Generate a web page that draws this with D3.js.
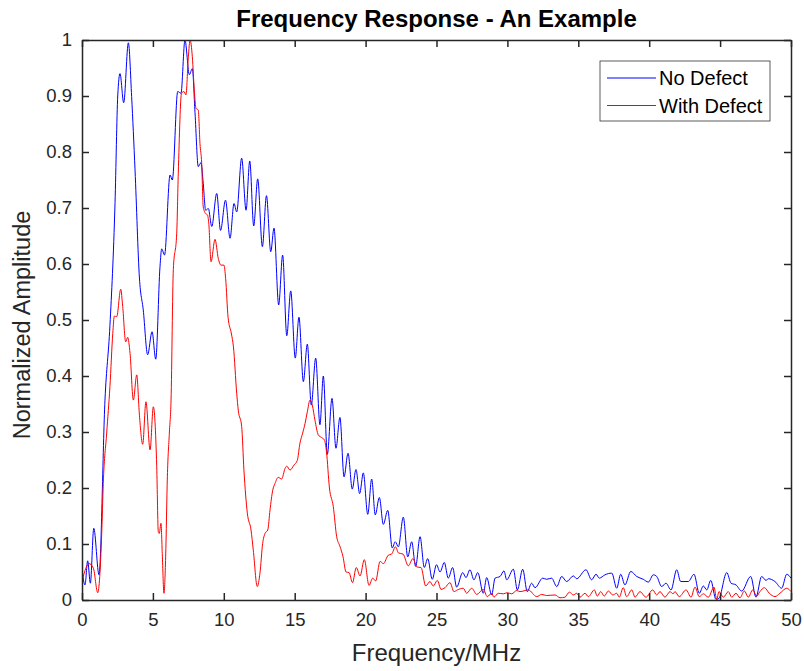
<!DOCTYPE html>
<html>
<head>
<meta charset="utf-8">
<script src="https://cdn.jsdelivr.net/npm/d3@7"></script>
<style>
  body { margin: 0; background: #fff; }
  svg { display: block; font-family: "Liberation Sans", Arial, sans-serif; }
</style>
</head>
<body>
<svg id="chart"></svg>
<script>
let width = 804;
let height = 671;
let margin = { top: 40, right: 13, bottom: 71, left: 82 };

// No Defect (blue)
let noDefectFreq = [0, 0.21, 0.40, 0.59, 0.83, 1.20, 1.62, 1.97, 2.33, 2.52, 2.68, 2.94, 3.27, 3.50, 3.74, 4.05, 4.32, 4.63, 4.94, 5.20,
  5.50, 5.62, 5.82, 6.21, 6.37, 6.75, 6.98, 7.26, 7.57, 7.78, 7.97, 8.20, 8.39, 8.55, 8.72, 8.91, 9.15, 9.50, 9.77, 10.12,
  10.44, 10.72, 10.91, 11.26, 11.57, 11.83, 12.11, 12.39, 12.72, 13.01, 13.31, 13.54, 13.87, 14.15, 14.44, 14.72, 15.04, 15.30, 15.61, 15.89,
  16.17, 16.48, 16.78, 17.02, 17.30, 17.63, 17.91, 18.19, 18.48, 18.76, 19.06, 19.32, 19.58, 19.84, 20.15, 20.43, 20.68, 20.97, 21.25, 21.56,
  21.88, 22.09, 22.31, 22.66, 22.97, 23.25, 23.53, 23.84, 24.14, 24.38, 24.70, 25.00, 25.25, 25.55, 25.83, 26.14, 26.42, 26.85, 27.08, 27.36,
  27.64, 27.91, 28.30, 28.54, 28.89, 29.13, 29.48, 29.76, 29.95, 30.42, 30.70, 31.08, 31.40, 31.71, 31.95, 32.49, 32.77, 33.12, 33.48, 33.83,
  34.18, 34.65, 34.89, 35.54, 35.94, 36.25, 36.48, 36.88, 37.36, 37.71, 37.99, 38.29, 38.70, 39.12, 39.58, 39.94, 40.29, 40.53, 40.88, 41.18,
  41.54, 41.94, 42.22, 42.76, 43.16, 43.53, 43.82, 44.06, 44.34, 44.71, 44.92, 45.47, 45.77, 46.12, 46.52, 47.16, 47.53, 47.93, 48.24, 48.40,
  48.87, 49.34, 49.70, 50.00];
let noDefectAmp = [0.054, 0.027, 0.070, 0.030, 0.128, 0.045, 0.357, 0.490, 0.710, 0.900, 0.940, 0.888, 0.995, 0.899, 0.768, 0.575, 0.518, 0.438, 0.479, 0.430,
  0.595, 0.627, 0.616, 0.759, 0.750, 0.908, 0.905, 1.000, 0.938, 0.949, 0.870, 0.774, 0.781, 0.744, 0.696, 0.699, 0.667, 0.726, 0.660, 0.714,
  0.646, 0.708, 0.693, 0.789, 0.696, 0.784, 0.668, 0.752, 0.631, 0.722, 0.622, 0.664, 0.527, 0.616, 0.472, 0.552, 0.432, 0.505, 0.390, 0.457,
  0.348, 0.432, 0.313, 0.400, 0.260, 0.360, 0.271, 0.326, 0.220, 0.262, 0.198, 0.233, 0.190, 0.227, 0.153, 0.216, 0.152, 0.183, 0.135, 0.160,
  0.093, 0.104, 0.095, 0.148, 0.077, 0.104, 0.060, 0.113, 0.058, 0.074, 0.037, 0.063, 0.050, 0.067, 0.039, 0.058, 0.023, 0.049, 0.040, 0.054,
  0.036, 0.049, 0.012, 0.040, 0.009, 0.039, 0.042, 0.052, 0.036, 0.055, 0.018, 0.055, 0.015, 0.030, 0.022, 0.039, 0.037, 0.039, 0.024, 0.042,
  0.033, 0.043, 0.038, 0.054, 0.036, 0.046, 0.039, 0.045, 0.048, 0.021, 0.046, 0.027, 0.051, 0.042, 0.037, 0.032, 0.045, 0.042, 0.024, 0.030,
  0.018, 0.054, 0.033, 0.033, 0.046, 0.012, 0.025, 0.018, 0.035, 0.001, 0.003, 0.049, 0.030, 0.027, 0.016, 0.042, 0.005, 0.042, 0.035, 0.038,
  0.033, 0.021, 0.046, 0.039];

// With Defect (red)
let withDefectFreq = [0, 0.18, 0.49, 0.80, 1.11, 1.39, 1.50, 1.74, 1.97, 2.17, 2.28, 2.45, 2.73, 2.87, 3.08, 3.22, 3.39, 3.62, 3.86, 4.05,
  4.28, 4.51, 4.80, 5.03, 5.27, 5.38, 5.45, 5.57, 5.66, 5.78, 5.90, 6.02, 6.16, 6.28, 6.44, 6.68, 6.79, 7.02, 7.19, 7.33,
  7.50, 7.62, 7.78, 7.92, 8.04, 8.20, 8.32, 8.44, 8.55, 8.72, 8.84, 8.94, 9.10, 9.38, 9.61, 9.80, 10.01, 10.13, 10.30, 10.54,
  10.68, 10.91, 11.02, 11.26, 11.42, 11.66, 11.92, 12.08, 12.36, 12.55, 12.74, 12.91, 13.10, 13.26, 13.45, 13.61, 13.84, 14.08, 14.32, 14.44,
  14.67, 14.95, 15.18, 15.37, 15.56, 15.73, 15.89, 16.08, 16.24, 16.43, 16.66, 16.90, 17.09, 17.24, 17.45, 17.72, 17.96, 18.19, 18.41, 18.62,
  18.83, 19.08, 19.34, 19.61, 19.91, 20.24, 20.50, 20.71, 21.02, 21.25, 21.60, 21.83, 22.11, 22.32, 22.64, 23.01, 23.34, 23.62, 23.91, 24.24,
  24.54, 24.77, 25.06, 25.32, 25.60, 25.95, 26.23, 26.47, 26.89, 27.13, 27.48, 27.84, 28.30, 28.58, 28.89, 29.05, 29.36, 29.71, 29.99, 30.30,
  30.66, 30.89, 31.47, 32.07, 32.42, 32.77, 33.36, 33.71, 34.06, 34.37, 34.65, 34.89, 35.12, 35.47, 35.71, 36.13, 36.34, 36.58, 36.83, 37.12,
  37.43, 37.71, 37.89, 38.17, 38.41, 38.77, 39.00, 39.35, 39.77, 40.25, 40.53, 40.76, 41.11, 41.47, 41.68, 41.82, 42.12, 42.60, 42.95, 43.23,
  43.53, 43.82, 44.17, 44.57, 44.76, 44.92, 45.23, 45.58, 45.82, 46.12, 46.40, 46.71, 46.99, 47.30, 47.58, 47.81, 48.12, 48.47, 48.87, 49.22,
  49.70, 50.00];
let withDefectAmp = [0.033, 0.050, 0.065, 0.057, 0.013, 0.119, 0.208, 0.298, 0.381, 0.476, 0.507, 0.506, 0.555, 0.524, 0.461, 0.469, 0.440, 0.357, 0.402, 0.330,
  0.278, 0.354, 0.268, 0.345, 0.238, 0.122, 0.119, 0.137, 0.083, 0.012, 0.077, 0.220, 0.298, 0.357, 0.590, 0.655, 0.762, 0.905, 0.908, 0.902,
  0.970, 1.000, 0.970, 0.910, 0.878, 0.875, 0.815, 0.780, 0.702, 0.690, 0.688, 0.673, 0.604, 0.644, 0.610, 0.598, 0.598, 0.574, 0.505, 0.475,
  0.452, 0.369, 0.339, 0.310, 0.232, 0.155, 0.125, 0.089, 0.024, 0.048, 0.101, 0.119, 0.125, 0.161, 0.196, 0.208, 0.219, 0.216, 0.235, 0.239,
  0.232, 0.241, 0.249, 0.280, 0.298, 0.315, 0.336, 0.357, 0.348, 0.321, 0.295, 0.290, 0.286, 0.265, 0.200, 0.167, 0.113, 0.096, 0.077, 0.050,
  0.049, 0.031, 0.058, 0.043, 0.072, 0.026, 0.039, 0.034, 0.069, 0.065, 0.080, 0.082, 0.095, 0.084, 0.082, 0.061, 0.074, 0.059, 0.058, 0.025,
  0.033, 0.025, 0.035, 0.019, 0.022, 0.031, 0.015, 0.018, 0.021, 0.012, 0.021, 0.010, 0.019, 0.006, 0.012, 0.005, 0.012, 0.011, 0.013, 0.011,
  0.017, 0.015, 0.018, 0.006, 0.010, 0.008, 0.009, 0.004, 0.005, 0.014, 0.009, 0.012, 0.005, 0.012, 0.006, 0.018, 0.007, 0.015, 0.007, 0.016,
  0.009, 0.012, 0.005, 0.022, 0.006, 0.018, 0.005, 0.015, 0.005, 0.018, 0.009, 0.015, 0.005, 0.015, 0.011, 0.015, 0.006, 0.018, 0.005, 0.023,
  0.006, 0.011, 0.005, 0.023, 0.001, 0.015, 0.005, 0.015, 0.005, 0.012, 0.004, 0.016, 0.005, 0.018, 0.007, 0.015, 0.022, 0.012, 0.006, 0.012,
  0.021, 0.015];

let xTicks = [0, 5, 10, 15, 20, 25, 30, 35, 40, 45, 50];
let yTicks = [0, 0.1, 0.2, 0.3, 0.4, 0.5, 0.6, 0.7, 0.8, 0.9, 1];

let seriesNames = ["No Defect", "With Defect"];
let seriesColors = ["#0000ff", "#ff0000"];

let axisColor = "#262626";

let svg = d3.select("#chart")
  .attr("width", width)
  .attr("height", height);

let plotW = width - margin.left - margin.right;
let plotH = height - margin.top - margin.bottom;

let xScale = d3.scaleLinear().domain([0, 50]).range([margin.left, margin.left + plotW]);
let yScale = d3.scaleLinear().domain([0, 1]).range([margin.top + plotH, margin.top]);

svg.append("defs").append("clipPath")
  .attr("id", "clip")
  .append("rect")
  .attr("x", margin.left)
  .attr("y", margin.top)
  .attr("width", plotW)
  .attr("height", plotH);

let series = [
  d3.zip(noDefectFreq, noDefectAmp),
  d3.zip(withDefectFreq, withDefectAmp)
];

let line = d3.line()
  .x(d => xScale(d[0]))
  .y(d => yScale(d[1]))
  .curve(d3.curveMonotoneX);

// blue first, red on top
svg.append("g")
  .attr("clip-path", "url(#clip)")
  .selectAll("path")
  .data(series)
  .enter()
  .append("path")
  .attr("d", line)
  .attr("fill", "none")
  .attr("stroke", (d, i) => seriesColors[i])
  .attr("stroke-width", 1);

// axes, ticks inward on all four sides
let tickLen = 7;

let drawAxis = (axis, tx, ty, cls) => {
  let g = svg.append("g")
    .attr("transform", "translate(" + tx + "," + ty + ")")
    .attr("class", cls)
    .call(axis);
  g.select(".domain").attr("stroke", axisColor).attr("stroke-width", 1.5);
  g.selectAll(".tick line").attr("stroke", axisColor).attr("stroke-width", 1.5);
  g.selectAll(".tick text")
    .attr("fill", axisColor)
    .style("font-size", "18.5px");
  return g;
};

let xAxis = d3.axisBottom(xScale).tickValues(xTicks).tickSize(-tickLen).tickSizeOuter(0).tickPadding(13).tickFormat(d3.format("d"));
let gx = drawAxis(xAxis, 0, margin.top + plotH, "x-axis");
gx.selectAll(".tick text").attr("dy", "0.71em");

let xAxisTop = d3.axisTop(xScale).tickValues(xTicks).tickSize(-tickLen).tickSizeOuter(0).tickFormat("");
drawAxis(xAxisTop, 0, margin.top, "x-axis-top");

let yAxis = d3.axisLeft(yScale).tickValues(yTicks).tickSize(-tickLen).tickSizeOuter(0).tickPadding(10).tickFormat(d => d);
drawAxis(yAxis, margin.left, 0, "y-axis");

let yAxisRight = d3.axisRight(yScale).tickValues(yTicks).tickSize(-tickLen).tickSizeOuter(0).tickFormat("");
drawAxis(yAxisRight, margin.left + plotW, 0, "y-axis-right");

// title
svg.append("text")
  .attr("x", margin.left + plotW / 2)
  .attr("y", 27)
  .attr("text-anchor", "middle")
  .attr("fill", "#000")
  .style("font-size", "24px")
  .style("font-weight", "bold")
  .text("Frequency Response - An Example");

// axis labels
svg.append("text")
  .attr("x", margin.left + plotW / 2)
  .attr("y", 661)
  .attr("text-anchor", "middle")
  .attr("fill", axisColor)
  .style("font-size", "24px")
  .text("Frequency/MHz");

svg.append("text")
  .attr("transform", "translate(30," + (margin.top + plotH / 2 + 5) + ") rotate(-90)")
  .attr("text-anchor", "middle")
  .attr("fill", axisColor)
  .style("font-size", "23.5px")
  .text("Normalized Amplitude");

// legend
let legend = svg.append("g").attr("transform", "translate(600,61)");
legend.append("rect")
  .attr("width", 170)
  .attr("height", 60)
  .attr("fill", "#fff")
  .attr("stroke", axisColor)
  .attr("stroke-width", 0.75);

seriesNames.forEach((name, i) => {
  let y = 17 + i * 27.5;
  legend.append("line")
    .attr("x1", 7).attr("x2", 56)
    .attr("y1", y).attr("y2", y)
    .attr("stroke", seriesColors[i])
    .attr("stroke-width", 1);
  legend.append("text")
    .attr("x", 59)
    .attr("y", y)
    .attr("dy", "0.35em")
    .attr("fill", "#000")
    .style("font-size", "20px")
    .text(name);
});
</script>
</body>
</html>
